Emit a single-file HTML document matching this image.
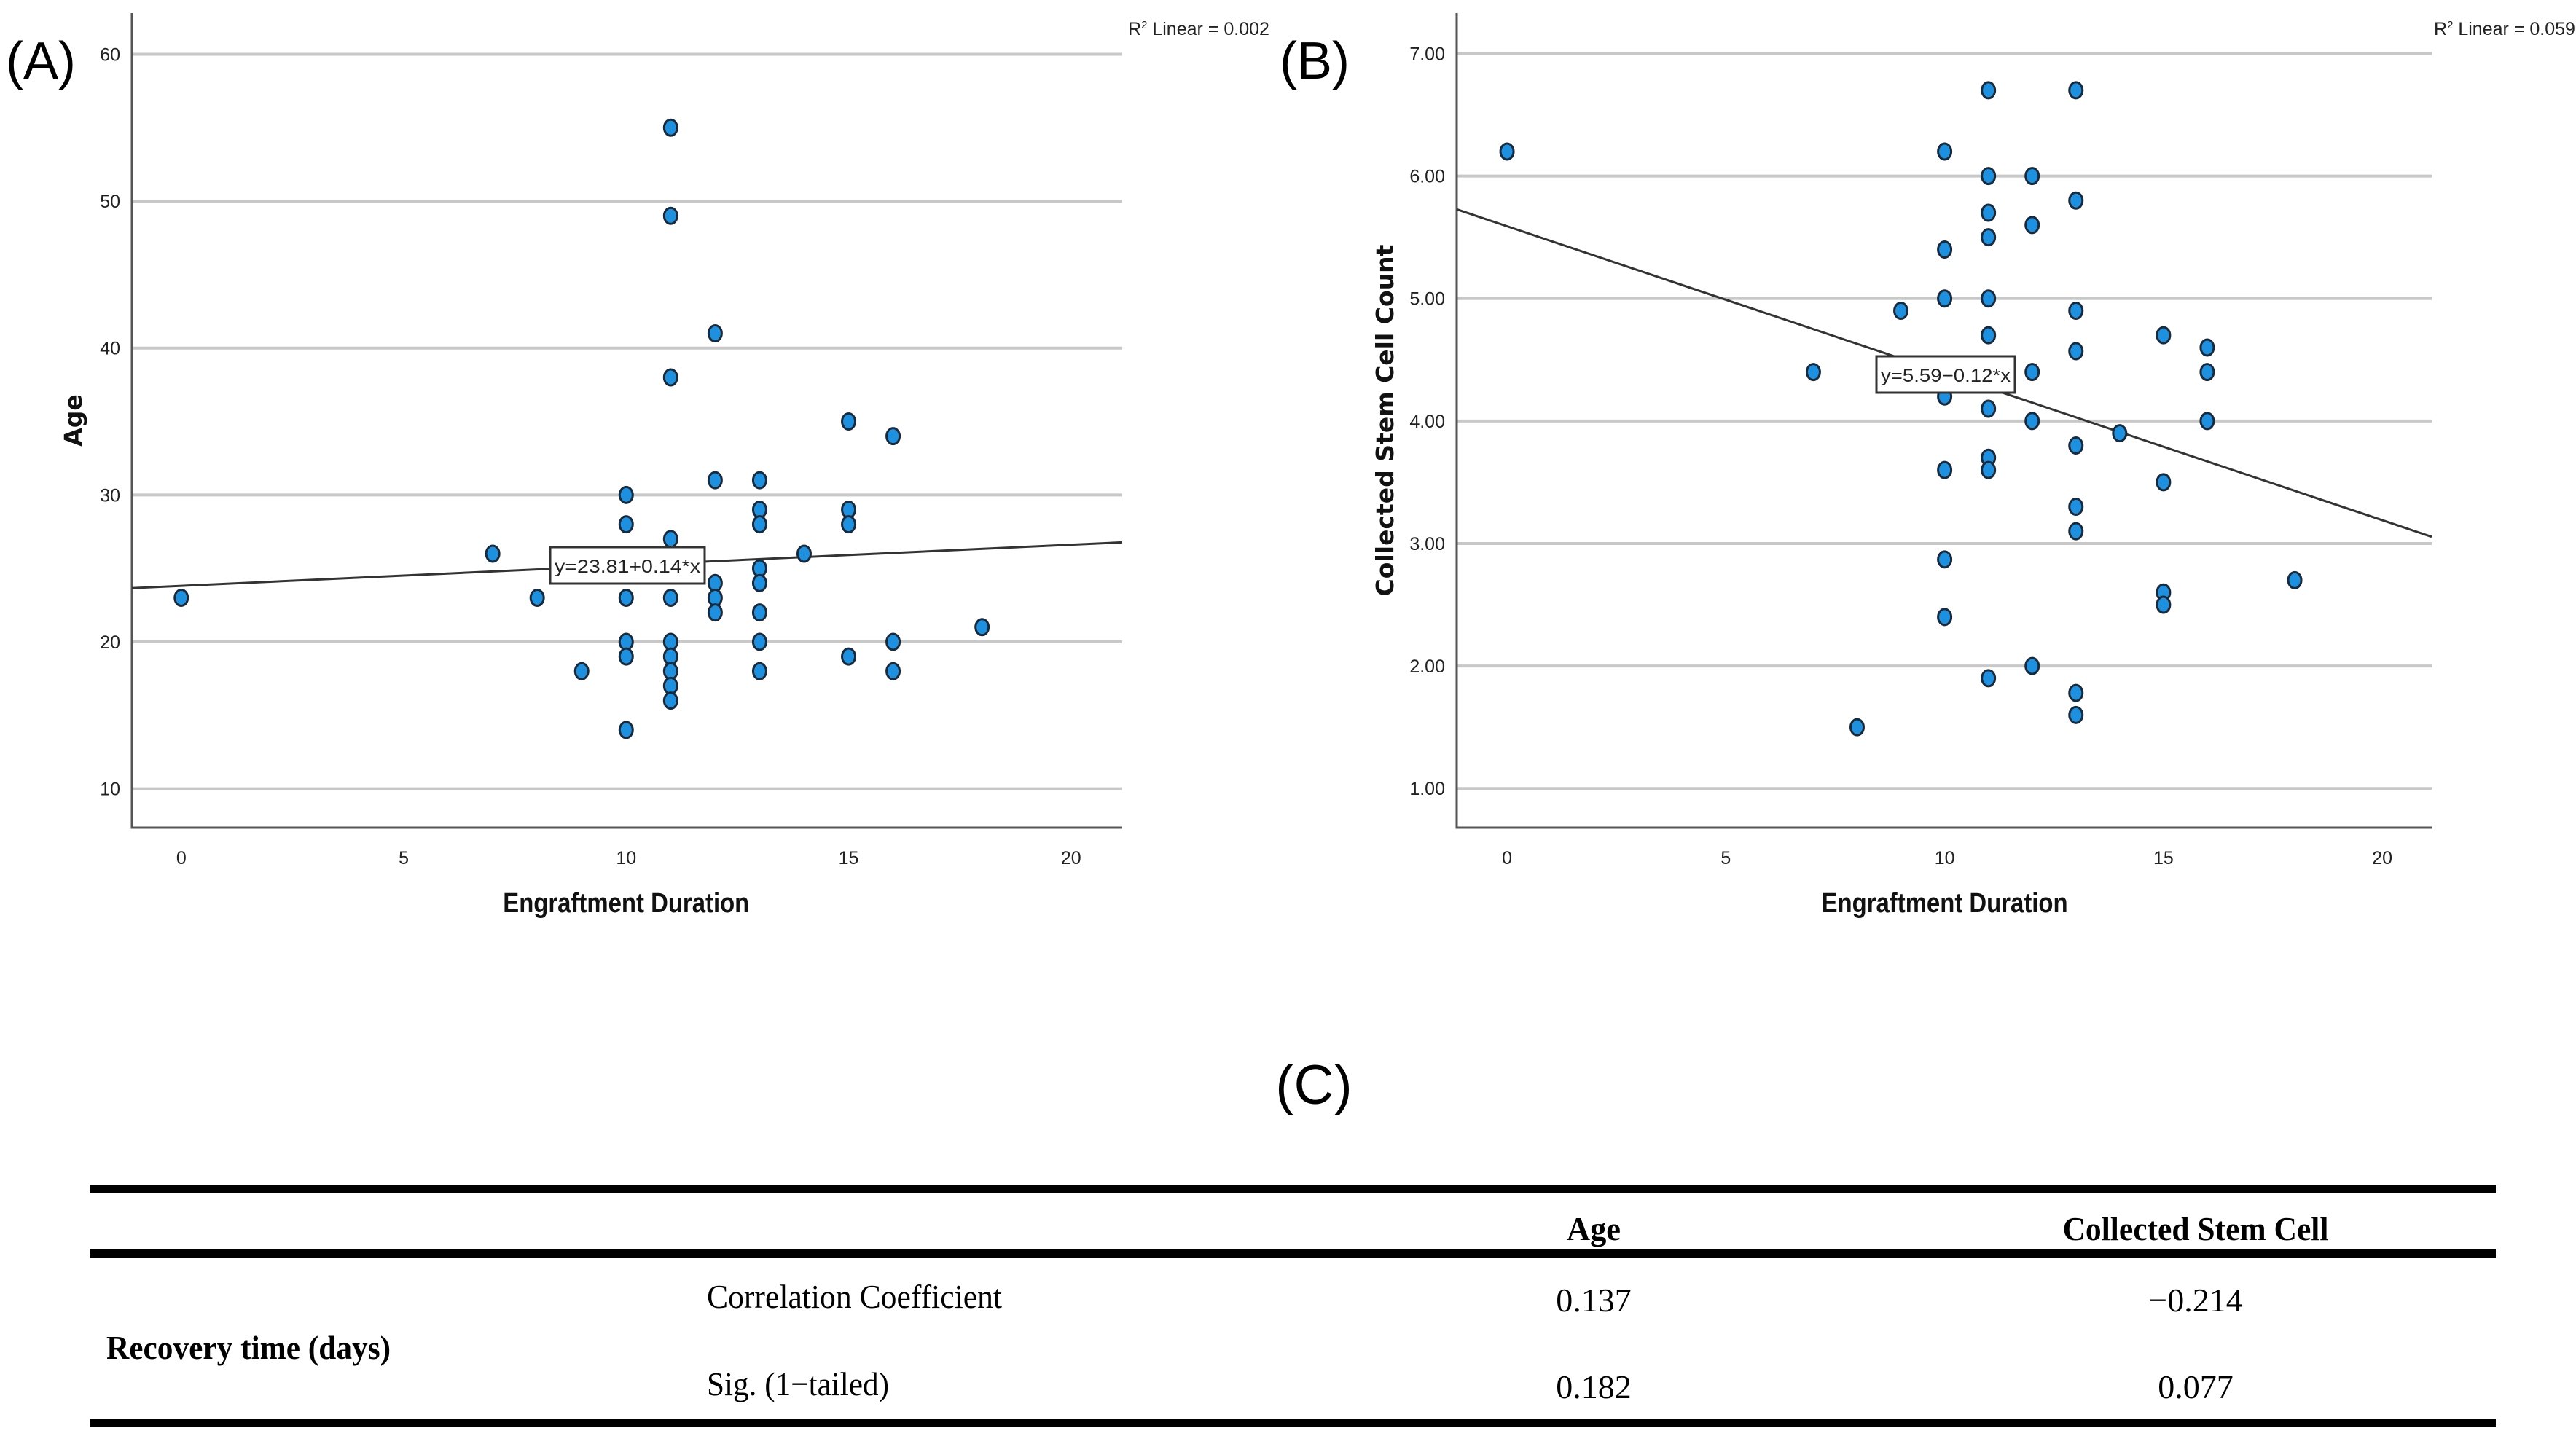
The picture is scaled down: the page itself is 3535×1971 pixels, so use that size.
<!DOCTYPE html>
<html><head><meta charset="utf-8">
<style>
html,body{margin:0;padding:0;background:#fff;}
svg{display:block;}
.tick{font-family:"Liberation Sans Narrow","Liberation Sans",sans-serif;font-size:25px;fill:#222;}
.xt{font-family:"Liberation Sans Narrow","Liberation Sans",sans-serif;font-weight:bold;font-size:38px;fill:#111;}
.yt{font-family:"DejaVu Sans","Liberation Sans",sans-serif;font-weight:bold;font-size:33px;fill:#111;}
.ser{font-family:"Liberation Serif",serif;font-size:46px;fill:#000;}
</style></head>
<body>
<svg id="fig" width="3535" height="1971" viewBox="0 0 3535 1971" xmlns="http://www.w3.org/2000/svg">
<text x="8" y="108" font-family="Liberation Sans,sans-serif" font-size="72">(A)</text>
<text x="1756" y="108" font-family="Liberation Sans,sans-serif" font-size="72">(B)</text>
<text x="1803" y="1515" text-anchor="middle" font-family="Liberation Sans,sans-serif" font-size="76">(C)</text>
<g id="pa"></g>
<g id="pb"></g>
<g>
<rect x="124" y="1627" width="3301" height="11" fill="#000"/>
<rect x="124" y="1715" width="3301" height="11" fill="#000"/>
<rect x="124" y="1948" width="3301" height="11" fill="#000"/>
<text class="ser" x="2187" y="1702" text-anchor="middle" font-weight="bold" textLength="74" lengthAdjust="spacingAndGlyphs">Age</text>
<text class="ser" x="3013" y="1702" text-anchor="middle" font-weight="bold" textLength="365" lengthAdjust="spacingAndGlyphs">Collected Stem Cell</text>
<text class="ser" x="970" y="1795" textLength="405" lengthAdjust="spacingAndGlyphs">Correlation Coefficient</text>
<text class="ser" x="146" y="1865" font-weight="bold" textLength="390" lengthAdjust="spacingAndGlyphs">Recovery time (days)</text>
<text class="ser" x="970" y="1915" textLength="250" lengthAdjust="spacingAndGlyphs">Sig. (1−tailed)</text>
<text class="ser" x="2187" y="1800" text-anchor="middle">0.137</text>
<text class="ser" x="3013" y="1800" text-anchor="middle">−0.214</text>
<text class="ser" x="2187" y="1919" text-anchor="middle">0.182</text>
<text class="ser" x="3013" y="1919" text-anchor="middle">0.077</text>
</g>
</svg>
<script>
const ageX = [0,7,8,9,10,10,10,10,10,10,11,11,11,11,11,11,11,11,11,11,12,12,12,12,12,13,13,13,13,13,13,13,13,14,15,15,15,15,16,16,16,18];
const ageY = [23,26,23,18,30,28,23,20,19,14,55,49,38,27,23,20,19,18,17,16,41,31,24,23,22,31,29,28,25,24,22,20,18,26,35,29,28,19,34,20,18,21];
const ageTicks = [10,20,30,40,50,60];
const ageFit = [23.81, 0.14];
const stemX = [0,7,8,9,10,10,10,10,10,10,10,11,11,11,11,11,11,11,11,11,11,12,12,12,12,12,13,13,13,13,13,13,13,13,13,14,15,15,15,15,16,16,16,18];
const stemY = [6.2,4.4,1.5,4.9,6.2,5.4,5.0,4.2,3.6,2.87,2.4,6.7,6.0,5.7,5.5,5.0,4.7,4.1,3.7,3.6,1.9,6.0,5.6,4.4,4.0,2.0,6.7,5.8,4.9,4.57,3.8,3.3,3.1,1.78,1.6,3.9,4.7,3.5,2.6,2.5,4.6,4.4,4.0,2.7];
const stemTicks = [1,2,3,4,5,6,7];
const stemFit = [5.59, -0.12];
const xTicks = [0,5,10,15,20];

const NS='http://www.w3.org/2000/svg';
function mk(p,t,a){const e=document.createElementNS(NS,t);for(const k in a)e.setAttribute(k,a[k]);p.appendChild(e);return e;}

function chart(g,o){
  const sx=v=>o.L+(v-o.x0)/(o.x1-o.x0)*(o.R-o.L);
  const sy=v=>o.B-(v-o.y0)/(o.y1-o.y0)*(o.B-o.T);
  o.yt.forEach(v=>{
    const l=mk(g,'line',{x1:o.L,x2:o.R,y1:sy(v),y2:sy(v),stroke:'#c8c8c8','stroke-width':4});
    
    
    const t=mk(g,'text',{x:o.L-16,y:sy(v)+9,'text-anchor':'end',class:'tick'});
    t.textContent=o.fmt(v);
    
    
  });
  const ax=mk(g,'path',{d:`M${o.L} ${o.T}V${o.B}H${o.R}`,fill:'none',stroke:'#555','stroke-width':3});
  
  
  xTicks.forEach(v=>{
    const t=mk(g,'text',{x:sx(v),y:o.B+50,'text-anchor':'middle',class:'tick'});
    t.textContent=v;
    
    
  });
  const fl=mk(g,'line',{x1:o.L,y1:sy(o.fit[0]+o.fit[1]*o.x0),x2:o.R,y2:sy(o.fit[0]+o.fit[1]*o.x1),stroke:'#333','stroke-width':3});
  
  
  o.xs.forEach((x,i)=>{
    const c=mk(g,'ellipse',{cx:sx(x),cy:sy(o.ys[i]),rx:9,ry:11,fill:'#1e90e0',stroke:'#1a2a3a','stroke-width':3});
    
    
  });
  const bx=mk(g,'rect',{x:o.box[0]-o.box[2]/2,y:o.box[1]-25,width:o.box[2],height:50,fill:'#fff',stroke:'#333','stroke-width':3});
  
  
  const et=mk(g,'text',{x:o.box[0],y:o.box[1]+10,'text-anchor':'middle',class:'tick',textLength:o.box[2]-12,lengthAdjust:'spacingAndGlyphs'});
  et.textContent=o.eq;
  
  
  const r=mk(g,'text',{x:o.r2x,y:48,class:'tick','font-size':24});
  r.innerHTML='R<tspan dy="-9" font-size="15">2</tspan><tspan dy="9"> Linear = '+o.r2+'</tspan>';
  
  
  const xt=mk(g,'text',{x:(sx(0)+sx(20))/2,y:1252,'text-anchor':'middle',class:'xt',textLength:338,lengthAdjust:'spacingAndGlyphs'});
  xt.textContent='Engraftment Duration';
  
  
  const yt=mk(g,'text',{x:0,y:0,'text-anchor':'middle',class:'yt',transform:`translate(${o.ytx},${(o.T+o.B)/2}) rotate(-90)`});
  yt.textContent=o.ylab;
  
  
}
chart(document.getElementById('pa'),{L:181,R:1540,T:18,B:1136,x0:-1.11,x1:21.15,y0:7.35,y1:62.8,yt:ageTicks,fmt:v=>v,xs:ageX,ys:ageY,fit:ageFit,box:[861,776,212],eq:'y=23.81+0.14*x',r2:'0.002',r2x:1548,ylab:'Age',ytx:112});
chart(document.getElementById('pb'),{L:1999,R:3337,T:18,B:1136,x0:-1.15,x1:21.13,y0:0.68,y1:7.33,yt:stemTicks,fmt:v=>v.toFixed(2),xs:stemX,ys:stemY,fit:stemFit,box:[2670,514,190],eq:'y=5.59−0.12*x',r2:'0.059',r2x:3340,ylab:'Collected Stem Cell Count',ytx:1912});
</script>
</body></html>
